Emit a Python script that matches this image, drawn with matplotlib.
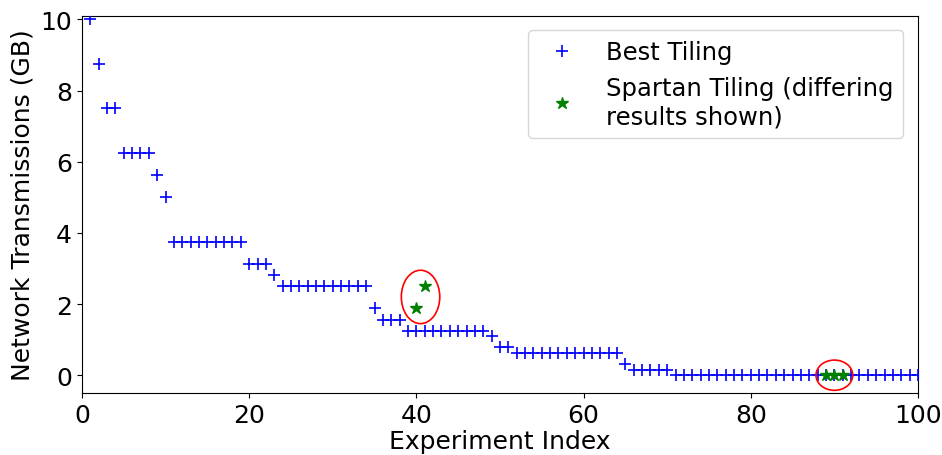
import matplotlib
matplotlib.use("Agg")
import matplotlib.pyplot as plt
from matplotlib.patches import Ellipse
import numpy as np

# Best tiling: network transmissions (GB) per experiment, sorted descending
best_x = np.arange(1, 101)
best_y = ([10.0, 8.75, 7.5, 7.5] + [6.25] * 4 + [5.625, 5.0] + [3.75] * 9
          + [3.125] * 3 + [2.8125] + [2.5] * 11 + [1.875] + [1.5625] * 3
          + [1.25] * 10 + [1.09375] + [0.78125] * 2 + [0.625] * 13
          + [0.3125] + [0.15625] * 5 + [0.0] * 30)

# Spartan tiling, only results that differ
spartan_x = [40, 41, 89, 90, 91]
spartan_y = [1.875, 2.5, 0.0, 0.0, 0.0]

# highlighted regions (center x, center y, width, height)
circles = [(40.5, 2.2, 4.6, 1.5), (90, 0.0, 4.4, 0.85)]

plt.rcParams["font.size"] = 18
fig = plt.figure(figsize=(9.42, 4.56), dpi=100)
ax = fig.add_axes([0.087, 0.136, 0.8875, 0.827])

ax.plot(best_x, best_y, "+", color="blue", markersize=9, markeredgewidth=1.2,
        label="Best Tiling", zorder=3)
ax.plot(spartan_x, spartan_y, "*", color="green", markersize=9,
        label="Spartan Tiling (differing\nresults shown)", zorder=4)

for cx, cy, w, h in circles:
    ax.add_patch(Ellipse((cx, cy), w, h, fill=False, edgecolor="red", linewidth=1.2, zorder=5))

ax.set_xlim(0, 100)
ax.set_ylim(-0.5, 10.1)
ax.set_yticks([0, 2, 4, 6, 8, 10])
ax.set_xlabel("Experiment Index", labelpad=2)
ax.set_ylabel("Network Transmissions (GB)")
ax.legend(loc="upper right", fontsize=17.5, borderaxespad=0.6)

fig.savefig("out.png", dpi=100)
